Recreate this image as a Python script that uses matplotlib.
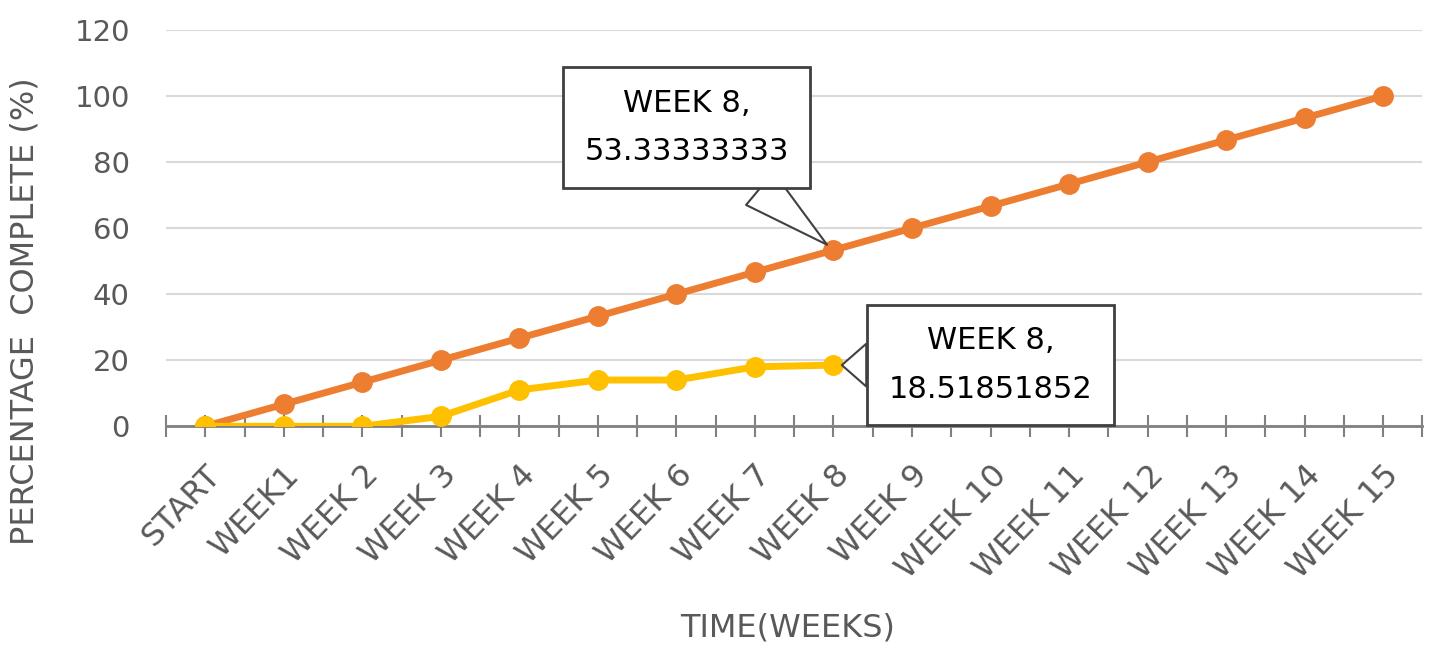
import matplotlib.pyplot as plt
import numpy as np

# categories and series
weeks = ["START", "WEEK1", "WEEK 2", "WEEK 3", "WEEK 4", "WEEK 5", "WEEK 6", "WEEK 7",
         "WEEK 8", "WEEK 9", "WEEK 10", "WEEK 11", "WEEK 12", "WEEK 13", "WEEK 14", "WEEK 15"]
planned = [0, 6.67, 13.33, 20, 26.67, 33.33, 40, 46.67, 53.33333333,
           60, 66.67, 73.33, 80, 86.67, 93.33, 100]
actual = [0, 0, 0, 3, 11, 14, 14, 18, 18.51851852]

orange = "#ED7D31"
yellow = "#FFC000"
grey = "#595959"

fig = plt.figure(figsize=(14.31, 6.65), dpi=100)
ax = fig.add_axes([0.116, 0.359, 0.878, 0.596])

x = np.arange(len(weeks))
ax.plot(x, planned, '-o', color=orange, lw=5, ms=14, zorder=3)
ax.plot(x[:len(actual)], actual, '-o', color=yellow, lw=5, ms=14, zorder=4)

ax.set_xlim(-0.5, len(weeks) - 0.5)
ax.set_ylim(0, 120)
ax.set_yticks(np.arange(0, 121, 20))
ax.yaxis.grid(True, color="#d9d9d9", lw=1.5)
ax.set_axisbelow(True)
for s in ["top", "right", "left"]:
    ax.spines[s].set_visible(False)
ax.spines["bottom"].set_color("#808080")
ax.spines["bottom"].set_linewidth(2)
ax.tick_params(axis="y", length=0, labelsize=21, labelcolor=grey, pad=26)

ax.set_xticks(x)
ax.set_xticklabels(weeks, rotation=46, ha="right", rotation_mode="anchor",
                   fontsize=23, color=grey)
ax.set_xticks(np.arange(-0.5, len(weeks), 1), minor=True)
ax.tick_params(axis="x", which="both", direction="inout", length=16, width=1.5,
               color="#808080")
ax.tick_params(axis="x", which="major", pad=16)

ax.set_ylabel("PERCENTAGE  COMPLETE (%)", fontsize=23, color=grey)
ax.yaxis.set_label_coords(-0.1, 0.29)
ax.set_xlabel("TIME(WEEKS)", fontsize=23, color=grey)
ax.xaxis.set_label_coords(0.495, -0.47)

box = dict(boxstyle="square,pad=0.7", fc="white", ec="#404040", lw=2)
arrow = dict(arrowstyle="wedge,tail_width=1.4,shrink_factor=0.5", fc="white",
             ec="#404040", lw=1.5, shrinkA=0, shrinkB=6)
ax.annotate("WEEK 8,\n" + str(planned[8]), xy=(8, planned[8]), xytext=(6.13, 90.5),
            ha="center", va="center", fontsize=22, linespacing=1.85, bbox=box,
            arrowprops=arrow, zorder=6)
ax.annotate("WEEK 8,\n" + str(actual[8]), xy=(8, actual[8]), xytext=(10.0, 18.5),
            ha="center", va="center", fontsize=22, linespacing=1.85, bbox=box,
            arrowprops=arrow, zorder=6)

fig.savefig("out.png", dpi=100)
